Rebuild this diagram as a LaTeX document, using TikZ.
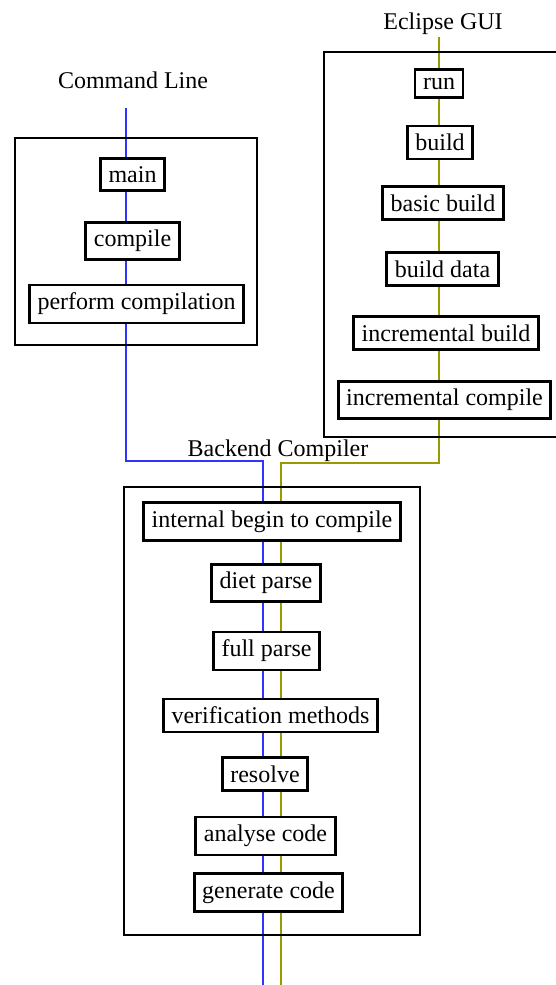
\documentclass[tikz,border=0pt]{standalone}
\usepackage{fontspec}
\setmainfont{Liberation Serif}
\usetikzlibrary{backgrounds}
\definecolor{cblue}{RGB}{51,51,255}
\definecolor{colive}{RGB}{153,153,0}
\begin{document}
\begin{tikzpicture}[x=1pt,y=-1pt,
  every node/.style={font=\fontsize{24}{28}\selectfont},
  stepbox/.style={draw=black,line width=2.8pt,fill=white,inner xsep=8pt,inner ysep=8pt},
  groupbox/.style={draw=black,line width=2.8pt,inner sep=0pt},
  title/.style={anchor=base,inner sep=0pt},
  blueline/.style={draw=cblue,line width=2.5pt},
  oliveline/.style={draw=colive,line width=2.5pt}]
\useasboundingbox (0,0) rectangle (555,985);

% group containers
\node[groupbox,minimum width=242pt,minimum height=207pt] (cmdgrp) at (136,241.5) {};
\node[groupbox,minimum width=240pt,minimum height=385pt] (guigrp) at (444,244.5) {};
\node[groupbox,minimum width=296pt,minimum height=448pt] (backgrp) at (272,711) {};

% titles
\node[title] (cmdtitle) at (133,88) {Command Line};
\node[title] (guititle) at (443,29) {Eclipse GUI};
\node[title] (backtitle) at (278,456) {Backend Compiler};

% command line steps
\node[stepbox] (main) at (132.5,174.5) {main};
\node[stepbox] (compile) at (132.5,241) {compile};
\node[stepbox] (perform) at (136.5,304) {perform compilation};

% eclipse steps
\node[stepbox] (run) at (439,83.5) {run};
\node[stepbox] (build) at (440,142.5) {build};
\node[stepbox] (basic) at (443,203) {basic build};
\node[stepbox] (bdata) at (442.5,269) {build data};
\node[stepbox] (incbuild) at (446,333) {incremental build};
\node[stepbox] (inccomp) at (444.5,400) {incremental compile};

% backend steps
\node[stepbox] (begin) at (272,521.5) {internal begin to compile};
\node[stepbox] (diet) at (266,583) {diet parse};
\node[stepbox] (full) at (266.5,651) {full parse};
\node[stepbox] (verif) at (270.5,715.5) {verification methods};
\node[stepbox] (resolve) at (265,774) {resolve};
\node[stepbox] (analyse) at (265.5,836) {analyse code};
\node[stepbox] (generate) at (268.5,892.5) {generate code};

% connector coordinates
\coordinate (bluetop) at (126,108);
\coordinate (bluebend) at (263,461);
\coordinate (blueend) at (263,985);
\coordinate (olivetop) at (439,37);
\coordinate (olivebend) at (281,463);
\coordinate (oliveend) at (281,985);

\begin{scope}[on background layer]
\draw[blueline] (bluetop) -- (bluetop |- perform.south) |- (bluebend)
  -- (bluebend |- generate.south) -- (blueend);
\draw[oliveline] (olivetop) -- (olivetop |- inccomp.south) |- (olivebend)
  -- (olivebend |- generate.south) -- (oliveend);
\end{scope}
\end{tikzpicture}
\end{document}
